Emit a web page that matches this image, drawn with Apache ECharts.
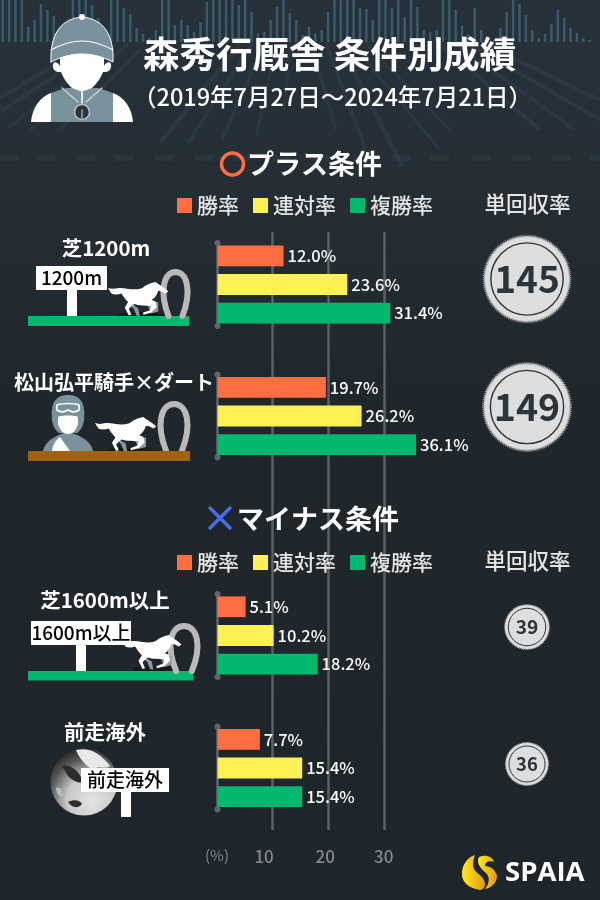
<!DOCTYPE html>
<html><head><meta charset="utf-8">
<script src="https://cdn.jsdelivr.net/npm/echarts@6/dist/echarts.min.js"></script>
<style>html,body{margin:0;padding:0;background:#1f262c}#c{width:600px;height:900px}</style>
</head><body><div id="c"></div>
<script>
const groups = ['芝1200m','松山弘平騎手×ダート','芝1600m以上','前走海外'];
const winRate = [12.0,19.7,5.1,7.7];
const quinellaRate = [23.6,26.2,10.2,15.4];
const showRate = [31.4,36.1,18.2,15.4];
const returnRate = [145,149,39,36];
const seriesNames = ['勝率','連対率','複勝率'];
const seriesColors = ['#ff6f42','#fff055','#00b96f'];
const tickLabels = ['(%)','10','20','30'];
const tickShift = [0,17,6,0];

const JP = '"Noto Sans CJK JP"';
const W = 5.5, X0 = 217.5;
const barTops = [243,374.5,594,726.5];
const medalY = [279,407,627,764];
const groupGrid = 83;

/* decor: top tick heights (y of top of each strip), one per slot */
const skyline = [0,0,0,0,27,20,4,10,16,45,45,0,0,0,5,18,30,0,0,8,14,28,34,38,30,0,0,25,20,25,32,22,2,0,0,0,0,5,0,12,33,32,20,7,0,13,20,35,27,33,30,12,0,0,0,0,8,9,20,0,0,8,0,17,0,7,30,32,30,0,0,10,26,34,8,30,36,40,28,12,0,4,15,30,38,34,24,10,18,28,33,38,40,45];
const fanStrips = [
[128,44,30,130,4],[116,44,8,128,4],[104,44,0,112,4],[90,44,0,98,4],[140,50,60,130,3],
[240,44,160,143,5],[252,44,188,143,4],[264,44,222,140,4],[276,44,256,138,3],[290,48,284,110,3],
[312,46,336,130,4],[326,44,366,150,4],[340,44,402,166,5],[352,44,440,150,3],[366,44,452,132,3],
[440,44,540,130,4],[456,44,575,130,4],[470,44,600,120,4],[484,44,600,100,4]
];
const hatchX = [0,36,76,114,155,195,232,272,312,352,392,430,472,512,552,590];

const horsePath = 'M0,18 C10,22 22,20 32,18 C45,16 60,22 80,22 C92,22 102,20 110,12 C120,6 130,2 142,0 L150,6 C160,12 172,20 180,28 L172,34 C165,30 155,26 150,26 C146,38 140,48 130,54 L142,58 L146,75 L128,92 L106,98 L104,92 L125,84 L128,72 L105,70 C92,70 85,68 78,66 L62,80 L70,98 L62,100 L50,76 L60,60 C50,50 44,40 40,34 C30,38 18,38 10,34 Z';

let pathCount = 0;
const pathTypes = {};
function pathType(d){
  if(!pathTypes[d]){
    const name='svgp'+(pathCount++);
    echarts.graphic.registerShape(name, echarts.graphic.extendPath(d,{}));
    pathTypes[d]=name;
  }
  return pathTypes[d];
}
const g = [];
function rect(x,y,w,h,fill,z){g.push({type:'rect',z:z||1,silent:true,shape:{x,y,width:w,height:h},style:{fill}});}
function poly(d,fill,stroke,lw,z){
  g.push({type:pathType(d),z:z||3,silent:true,style:{fill:fill||'none',stroke:stroke||'none',lineWidth:lw||0,lineCap:'round'}});
}
function text(t,x,y,font,fill,align){g.push({type:'text',z:10,silent:true,style:{text:t,x,y,font,fill,textAlign:align||'left',textVerticalAlign:'middle'}});}
function circle(cx,cy,r,style,z){g.push({type:'circle',z:z||3,silent:true,shape:{cx,cy,r},style});}
function horse(x,y,sx,sy){
  g.push({type:'ellipse',z:2,silent:true,shape:{cx:x+sx*100,cy:y+sy*100,rx:sx*70,ry:sy*9},style:{fill:'#15191d'}});
  g.push({type:'polygon',z:3,silent:true,shape:{points:[[x+sx*115,y+sy*60],[x+sx*150,y+sy*60],[x+sx*150,y+sy*88],[x+sx*128,y+sy*94]]},style:{fill:'#8a98a0'}});
  g.push({type:'polygon',z:3,silent:true,shape:{points:[[x+sx*62,y+sy*60],[x+sx*90,y+sy*78],[x+sx*95,y+sy*102],[x+sx*85,y+sy*100],[x+sx*78,y+sy*82]]},style:{fill:'#8a98a0'}});
  g.push({type:pathType(horsePath),z:4,silent:true,x:x,y:y,scaleX:sx,scaleY:sy,style:{fill:'#fff'}});
}
function shoe(x,yTop,w,yBot){
  const m=x+w/2;
  poly(`M${x+w*0.22},${yBot} C${x-w*0.15},${yTop+(yBot-yTop)*0.45} ${x+w*0.02},${yTop} ${m},${yTop} C${x+w*0.98},${yTop} ${x+w*1.15},${yTop+(yBot-yTop)*0.45} ${x+w*0.78},${yBot}`,null,'#b9b9b9',6,3);
}

/* background */
g.push({type:'rect',z:-10,silent:true,shape:{x:0,y:0,width:600,height:900},style:{fill:{type:'linear',x:0,y:0,x2:0,y2:1,colorStops:[{offset:0,color:'#27313a'},{offset:.2,color:'#252e35'},{offset:.45,color:'#1f272d'},{offset:1,color:'#1e252b'}]}}});
skyline.forEach((t,i)=>{ if(t<42) g.push({type:'rect',z:-9,silent:true,shape:{x:1.5+6.38*i,y:t,width:2.4,height:42-t},style:{fill:'rgba(72,118,138,.62)'}}); });
fanStrips.forEach(s=>g.push({type:'line',z:-9,silent:true,shape:{x1:s[0],y1:s[1],x2:s[2],y2:s[3]},style:{stroke:'rgba(84,112,128,.13)',lineWidth:s[4]}}));
hatchX.forEach(x=>g.push({type:'rect',z:-9,silent:true,shape:{x:x,y:155,width:19,height:6},style:{fill:'rgba(120,135,145,.07)'}}));

/* head jockey */
const gy='#7a929e';
poly('M51,93 C60,90 63,89 66,88 L98,88 L113,93 L113,122 L51,122 Z',gy);
poly('M51,93 C40,97 32,108 31,122 L51,122 Z','#fff');
poly('M113,93 C124,97 132,108 133,122 L113,122 Z','#fff');
poly('M60,66 C58,62 52,60 53,67 C54,72 58,72 61,72 C64,80 68,84 72,88 L80,91 L84,91 L92,88 C96,84 100,80 103,72 C106,72 110,72 111,67 C112,60 106,62 104,66 L104,54 L60,54 Z','#fff');
poly('M51,62 C50,35 60,19 82,17 C104,19 114,35 113,62 C105,58 95,54 82,54 C69,54 59,58 51,62 Z',gy,'#fff',1);
poly('M51,50 C62,44 72,41 82,41 C92,41 102,44 113,50',null,'#fff',1.2);
circle(82,17,3,{fill:'#fff'});
poly('M62,88 L78,102 M102,88 L86,102',null,'#cfd8dc',1.2);
poly('M82,88 L82,103',null,'#fff',1.6);
circle(82,112,7.5,{fill:'#2a343b',stroke:'#b8c4ca',lineWidth:1.6});
poly('M82,110 L82,119',null,'#8ea1ab',1.6);

/* titles */
text('森秀行厩舎 条件別成績',143,54,'bold 36.5px '+JP,'#fff');
text('（2019年7月27日～2024年7月21日）',133,97,'500 23.5px '+JP,'#fff');
circle(232.5,164,11,{fill:'none',stroke:'#ff6f42',lineWidth:3.4},10);
text('プラス条件',247,164,'bold 27px '+JP,'#fff');
poly('M210,508 L230,528 M230,508 L210,528',null,'#4a6fe8',3.4,10);
text('マイナス条件',237,519,'bold 27px '+JP,'#fff');
text('単回収率',527.5,204,'500 21.5px '+JP,'#e6e6e6','center');
text('単回収率',527.5,561,'500 21.5px '+JP,'#e6e6e6','center');

/* group labels */
text(groups[0],106,248,'bold 20.5px '+JP,'#fff','center');
text(groups[1],114,382,'bold 20px '+JP,'#fff','center');
text(groups[2],105,600,'bold 20.5px '+JP,'#fff','center');
text(groups[3],105,732,'bold 20.5px '+JP,'#fff','center');

/* illustration 1 */
rect(28,316,161,10,'#00b96f',3);
rect(67,290,10,26,'#fff',3);
rect(36,266,71,24,'#fff',4);
text('1200m',71.5,278,'500 19px '+JP,'#000','center');
shoe(163,272,25,316); horse(108,282,.335,.335);
/* illustration 2 */
rect(28,451,162,10,'#a0620f',5);
shoe(160,404,28,451); horse(95,417,.34,.34);
poly('M43,451 C45,441 55,436 64,433 L72,433 C81,436 91,441 93,451 Z',gy);
poly('M52,451 C53,444 56,440 60,437 L70,451 Z','#fff');
poly('M52,420 C50,400 58,395 68,395 C78,395 86,400 84,420 C83,427 80,431 77,433 L59,433 C56,431 53,427 52,420 Z',gy);
poly('M58,417 C60,415 76,415 78,417 L78,424 C76,431 72,434 68,434 C64,434 60,431 58,424 Z','#fff');
poly('M57,405 C62,403 74,403 79,405 L79,410 C75,413 71,412 68,410 C65,412 61,413 57,410 Z',gy,'#fff',1.6);
/* illustration 3 */
rect(28,671,165,9.5,'#00b96f',3);
rect(76,645,10,26,'#fff',3);
rect(31,621,100,24,'#fff',4);
text('1600m以上',81,633,'500 19px '+JP,'#000','center');
shoe(170,626,28,671); horse(122,635,.33,.34);
/* illustration 4 */
g.push({type:'circle',z:3,silent:true,shape:{cx:84,cy:782,r:33.5},style:{fill:{type:'radial',x:.62,y:.78,r:.9,colorStops:[{offset:0,color:'#e4e4e4'},{offset:.42,color:'#c8c8c8'},{offset:.72,color:'#555'},{offset:1,color:'#101010'}]}}});
poly('M76,750 C88,747 100,752 110,766 C104,770 98,764 94,770 C88,768 80,760 76,750 Z','#e8e8e8');
poly('M62,766 C70,764 78,770 84,782 C78,784 72,780 68,776 Z','#2c2c2c');
poly('M56,788 C60,786 64,792 62,797 C58,796 56,792 56,788 Z','#bdbdbd');
poly('M68,802 C74,799 80,800 82,804 C78,809 72,808 68,802 Z','#2c2c2c');
rect(121,792,10,25,'#fff',4);
rect(81,768,88,24,'#fff',4);
text(groups[3],125,780,'500 19px '+JP,'#000','center');

/* logo */
const logoFill={type:'linear',x:0,y:0,x2:1,y2:0,colorStops:[{offset:0,color:'#ffe91c'},{offset:1,color:'#e39a12'}]};
poly('M475,855 C466,858 462,866 462,874 C462,882 468,888 480,890 C485,889 486,885 484,880 C481,874 473,872 473,865 C473,861 474,858 475,855 Z',logoFill);
poly('M479,857 C486,854 493,857 494,862 C489,860 485,862 485,866 C490,866 496,870 497,876 C497,883 491,888 485,889 C490,883 490,876 485,872 C480,868 476,862 479,857 Z',logoFill);
text('SPAIA',505,873,'bold 27.5px "Open Sans"','#fff');

/* chart */
const grid=[{left:217,top:232,width:5.56*40,height:598}];
const xAxis=[{gridIndex:0,type:'value',min:0,max:40,interval:10,axisLine:{show:false},axisTick:{show:false},
  splitLine:{show:true,showMinLine:false,showMaxLine:false,lineStyle:{color:'#5a5f64',width:2.5}},
  axisLabel:{margin:18,showMaxLabel:false,color:'#7b7f83',fontFamily:JP,
    formatter:v=>{const i=v/10;return i<tickLabels.length?`{t${i}|${tickLabels[i]}}`:'';},
    rich:Object.fromEntries(tickLabels.map((t,i)=>['t'+i,{fontFamily:JP,fontSize:i?17:15,fontWeight:i?500:400,color:'#84888c',padding:[0,tickShift[i],0,0]}]))}}];
const yAxis=[{gridIndex:0,type:'value',show:false,min:0,max:1}];
const series=[];
groups.forEach((name,i)=>{
  const gi=grid.length;
  grid.push({left:X0,top:barTops[i],width:W*40,height:groupGrid});
  xAxis.push({gridIndex:gi,type:'value',min:0,max:40,show:false});
  yAxis.push({gridIndex:gi,type:'category',inverse:true,data:[name],
    axisTick:{show:false},axisLabel:{show:false},
    axisLine:{show:true,symbol:['circle','circle'],symbolSize:[6,6],symbolOffset:[0,0],lineStyle:{color:'#5f666c',width:2.5}}});
  [winRate,quinellaRate,showRate].forEach((vals,k)=>{
    series.push({type:'bar',name:seriesNames[k],xAxisIndex:gi,yAxisIndex:gi,data:[vals[i]],barWidth:20.8,barGap:'38%',z:3,
      itemStyle:{color:seriesColors[k]},
      label:{show:true,position:'right',distance:4,color:'#fff',fontFamily:JP,fontSize:16.5,fontWeight:500,formatter:p=>p.value.toFixed(1)+'%'}});
  });
});
groups.forEach((name,i)=>{
  const gi=grid.length;
  const size=Math.sqrt(returnRate[i])*7.15;
  grid.push({left:483,top:medalY[i]-50,width:88,height:100});
  xAxis.push({gridIndex:gi,type:'category',data:[name],show:false});
  yAxis.push({gridIndex:gi,type:'value',min:0,max:2,show:false});
  series.push({type:'scatter',name:'単回収率',xAxisIndex:gi,yAxisIndex:gi,z:3,symbol:'circle',symbolSize:size,silent:true,
    data:[[name,1]],itemStyle:{color:'#dedede',opacity:1,borderColor:'#9a9a9a',borderWidth:Math.max(1,size*0.03),borderType:[1,1]}});
  series.push({type:'scatter',name:'単回収率',xAxisIndex:gi,yAxisIndex:gi,z:4,symbol:'circle',symbolSize:size*0.84,silent:true,
    data:[{value:[name,1],rv:returnRate[i]}],itemStyle:{color:'#dedede',opacity:1,borderColor:'#2b343b',borderWidth:size>60?1.4:1},
    label:{show:true,position:'inside',color:'#2b343b',fontFamily:JP,fontWeight:'bold',fontSize:size*0.43,formatter:()=>String(returnRate[i])}});
});
const legendBase={data:seriesNames.map(n=>({name:n,icon:'rect'})),selectedMode:false,itemWidth:15,itemHeight:15,itemGap:14,
  textStyle:{color:'#e6e6e6',fontFamily:JP,fontSize:21,fontWeight:500},left:172};
const option={animation:false,backgroundColor:'#1f262c',grid,xAxis,yAxis,series,graphic:{elements:g},
  legend:[Object.assign({},legendBase,{top:190}),Object.assign({},legendBase,{top:547})]};
const chart=echarts.init(document.getElementById('c'),null,{renderer:'canvas',width:600,height:900});
chart.setOption(option);
</script></body></html>
